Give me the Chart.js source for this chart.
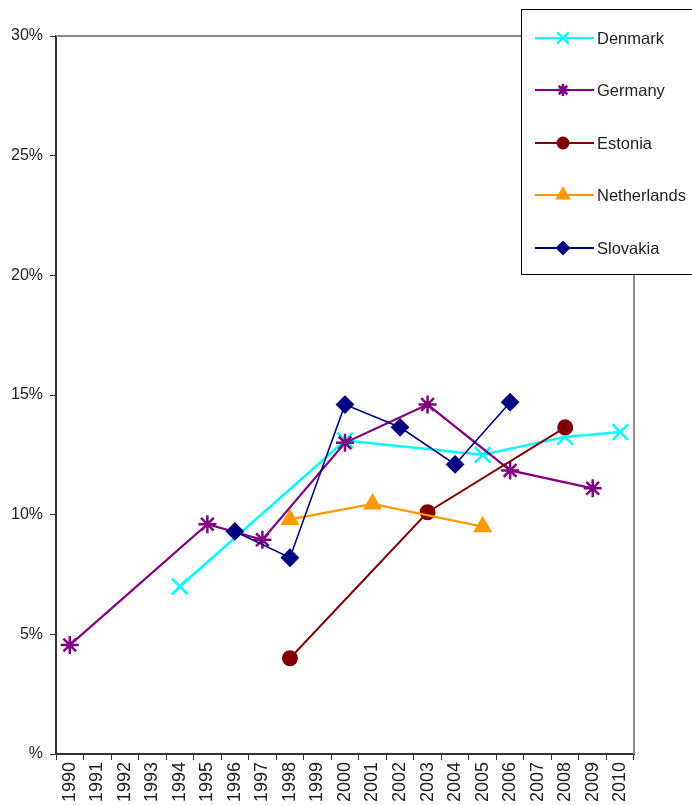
<!DOCTYPE html>
<html>
<head>
<meta charset="utf-8">
<script src="https://cdn.jsdelivr.net/npm/chart.js@4"></script>
<style>
  html, body { margin: 0; padding: 0; background: #fff; }
  #wrap { width: 692px; height: 805px; position: relative; }
</style>
</head>
<body>
<div id="wrap"><canvas id="shareChart"></canvas></div>
<script>
// years along the category axis
const years = ['1990', '1991', '1992', '1993', '1994', '1995', '1996', '1997', '1998', '1999', '2000',
               '2001', '2002', '2003', '2004', '2005', '2006', '2007', '2008', '2009', '2010'];

// values in percent, null = no observation that year
const denmark     = [null, null, null, null, 7.0, null, null, null, null, null, 13.1, null, null, null, null, 12.5, null, null, 13.25, null, 13.45];
const germany     = [4.55, null, null, null, null, 9.6, null, 8.95, null, null, 13.0, null, null, 14.6, null, null, 11.85, null, null, 11.1, null];
const estonia     = [null, null, null, null, null, null, null, null, 4.0, null, null, null, null, 10.1, null, null, null, null, 13.65, null, null];
const netherlands = [null, null, null, null, null, null, null, null, 9.8, null, null, 10.45, null, null, null, 9.5, null, null, null, null, null];
const slovakia    = [null, null, null, null, null, null, 9.3, null, 8.2, null, 14.6, null, 13.65, null, 12.1, null, 14.7, null, null, null, null];

const yTicks = [0, 5, 10, 15, 20, 25, 30];

const fontFamily = '"Liberation Sans", Arial, sans-serif';

// plot area frame (top + right edge in grey like the original)
const frameLines = {
    id: 'frameLines',
    afterDatasetsDraw(chart) {
        const { ctx, chartArea } = chart;
        ctx.save();
        ctx.strokeStyle = '#8c8c8c';
        ctx.lineWidth = 2;
        ctx.beginPath();
        ctx.moveTo(chartArea.left, chartArea.top);
        ctx.lineTo(chartArea.right, chartArea.top);
        ctx.lineTo(chartArea.right, chartArea.bottom);
        ctx.stroke();
        ctx.restore();
    }
};

// boxed legend in the top right corner
const boxLegend = {
    id: 'boxLegend',
    afterDraw(chart) {
        const ctx = chart.ctx;
        const box = { x: 521.5, y: 9.5, w: 180, h: 265 };
        ctx.save();
        ctx.fillStyle = '#fff';
        ctx.fillRect(box.x, box.y, box.w, box.h);
        ctx.strokeStyle = '#000';
        ctx.lineWidth = 1;
        ctx.strokeRect(box.x, box.y, box.w, box.h);

        const rowY = [38, 90, 143, 195, 248];
        chart.data.datasets.forEach((ds, i) => {
            const y = rowY[i];
            ctx.strokeStyle = ds.borderColor;
            ctx.lineWidth = 2;
            ctx.beginPath();
            ctx.moveTo(535, y);
            ctx.lineTo(594, y);
            ctx.stroke();

            ctx.fillStyle = ds.pointBackgroundColor;
            ctx.strokeStyle = ds.pointBorderColor;
            ctx.lineWidth = ds.pointBorderWidth;
            Chart.helpers.drawPoint(ctx, {
                pointStyle: ds.pointStyle,
                radius: ds.legendRadius,
                borderWidth: ds.pointBorderWidth,
                rotation: 0
            }, 563, y);

            ctx.fillStyle = '#222';
            ctx.font = '16.5px ' + fontFamily;
            ctx.textAlign = 'left';
            ctx.textBaseline = 'middle';
            ctx.fillText(ds.label, 597, y + 1);
        });
        ctx.restore();
    }
};

function series(label, data, color, style, radius, width, legendRadius, markerWidth) {
    return {
        label: label,
        data: data,
        borderColor: color,
        backgroundColor: color,
        pointBackgroundColor: color,
        pointBorderColor: color,
        pointStyle: style,
        pointRadius: radius,
        legendRadius: legendRadius,
        pointBorderWidth: markerWidth,
        borderWidth: width,
        tension: 0,
        spanGaps: true,
        fill: false
    };
}

const ctx = document.getElementById('shareChart').getContext('2d');
new Chart(ctx, {
    type: 'line',
    data: {
        labels: years,
        datasets: [
            { ...series('Denmark', denmark, '#00ffff', 'crossRot', 11, 2.5, 8, 2.5), order: 5 },
            { ...series('Germany', germany, '#800080', 'star', 9, 2.2, 6, 2.5), order: 4 },
            { ...series('Estonia', estonia, '#800000', 'circle', 7, 2, 5.5, 2), order: 3 },
            { ...series('Netherlands', netherlands, '#ff9900', 'triangle', 9, 2.2, 7, 2), order: 2 },
            { ...series('Slovakia', slovakia, '#000080', 'rectRot', 8, 1.6, 6, 2), order: 1 }
        ]
    },
    options: {
        responsive: true,
        maintainAspectRatio: false,
        animation: false,
        layout: { padding: { top: 36, right: 58, left: 0, bottom: 0 } },
        plugins: {
            legend: { display: false },
            tooltip: { enabled: false }
        },
        scales: {
            x: {
                type: 'category',
                offset: true,
                grid: {
                    offset: true,
                    drawOnChartArea: false,
                    drawTicks: true,
                    tickLength: 6,
                    color: '#333',
                    lineWidth: 1
                },
                border: { color: '#333', width: 2 },
                ticks: {
                    autoSkip: false,
                    minRotation: 90,
                    maxRotation: 90,
                    padding: 2,
                    color: '#222',
                    font: { family: fontFamily, size: 18 }
                },
                afterFit(scale) { scale.height = 51; }
            },
            y: {
                min: 0,
                max: 30,
                afterBuildTicks(scale) { scale.ticks = yTicks.map(v => ({ value: v })); },
                grid: {
                    drawOnChartArea: false,
                    drawTicks: true,
                    tickLength: 6,
                    color: '#333',
                    lineWidth: 1
                },
                border: { color: '#333', width: 2 },
                ticks: {
                    padding: 7,
                    color: '#222',
                    font: { family: fontFamily, size: 16 },
                    callback: function(value) { return value === 0 ? '%' : value + '%'; }
                },
                afterFit(scale) { scale.width = 56; }
            }
        }
    },
    plugins: [frameLines, boxLegend]
});
</script>
</body>
</html>
